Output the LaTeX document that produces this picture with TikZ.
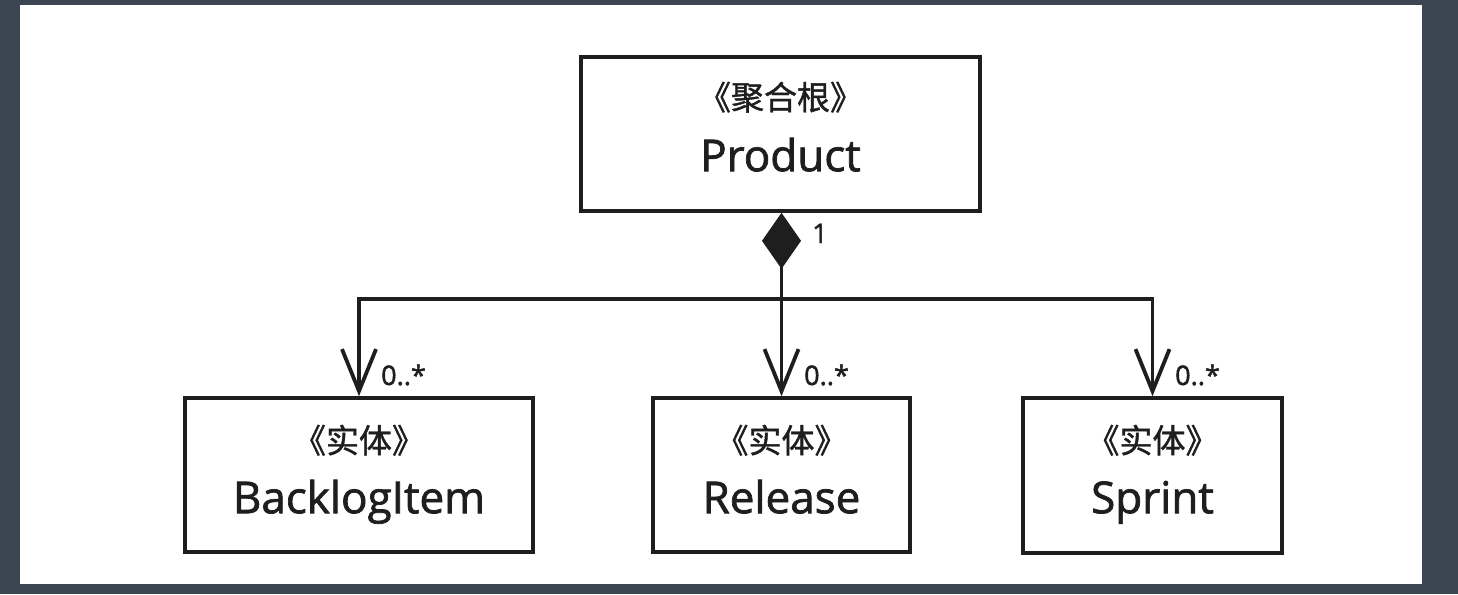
\documentclass[tikz,border=0pt]{standalone}
\usepackage{fontspec}
\newfontfamily\latn{Open Sans}[FakeBold=1.6]
\newfontfamily\cjk{Noto Sans CJK SC}[FakeBold=1.2]
\usetikzlibrary{arrows.meta,calc}
\definecolor{slate}{HTML}{3C4552}
\definecolor{ink}{HTML}{1E1E1E}
\tikzset{
  umlbox/.style={draw=ink, line width=3.6pt, fill=white, inner sep=0pt},
  stereo/.style={font=\cjk\fontsize{33}{33}\selectfont, text=ink, inner sep=0pt},
  cname/.style={font=\latn\fontsize{44}{44}\selectfont, text=ink, inner sep=0pt, anchor=base},
  mult/.style={font=\latn\fontsize{27}{27}\selectfont, text=ink, inner sep=0pt, anchor=base west},
  conn/.style={draw=ink, line width=3.8pt},
  navarrow/.style={-{Straight Barb[length=42pt,width=34pt,line width=3.8pt]}},
}
\begin{document}
\begin{tikzpicture}[x=1pt,y=-1pt]
\fill[slate] (0,0) rectangle (1458,594);
\fill[white] (20,5) rectangle (1422,584);
\useasboundingbox (0,0) rectangle (1458,594);
% boxes
\node[umlbox, minimum width=399pt, minimum height=154pt] (P) at (780.5,134) {};
\node[umlbox, minimum width=348pt, minimum height=154pt] (B) at (359,475) {};
\node[umlbox, minimum width=257pt, minimum height=154pt] (R) at (781.5,475) {};
\node[umlbox, minimum width=259pt, minimum height=155pt] (S) at (1152.5,475.5) {};
% texts
\node[stereo] (Pst) at ($(P.north)+(0,42)$) {《聚合根》};
\node[cname]  (Pnm) at ($(P.north)+(0,116)$) {Product};
\node[stereo] (Bst) at ($(B.north)+(0,44)$) {《实体》};
\node[cname]  (Bnm) at ($(B.north)+(0,117)$) {BacklogItem};
\node[stereo] (Rst) at ($(R.north)+(0,44)$) {《实体》};
\node[cname]  (Rnm) at ($(R.north)+(0,117)$) {Release};
\node[stereo] (Sst) at ($(S.north)+(0,44)$) {《实体》};
\node[cname]  (Snm) at ($(S.north)+(0,117)$) {Sprint};
% connectors
\coordinate (J) at (781.5,299);
\draw[conn, {Diamond[length=56pt,width=39pt,line width=1pt]}-] (P.south -| J) -- (J);
\draw[conn, navarrow] (J) -- (R.north);
\draw[conn, navarrow] (J) -| (B.north);
\draw[conn, navarrow] (J) -| (S.north);
% multiplicities
\node[mult] (m1) at (812,243) {1};
\node[mult] (mB) at (381,385) {0..*};
\node[mult] (mR) at (804,385) {0..*};
\node[mult] (mS) at (1175,385) {0..*};
\end{tikzpicture}
\end{document}
